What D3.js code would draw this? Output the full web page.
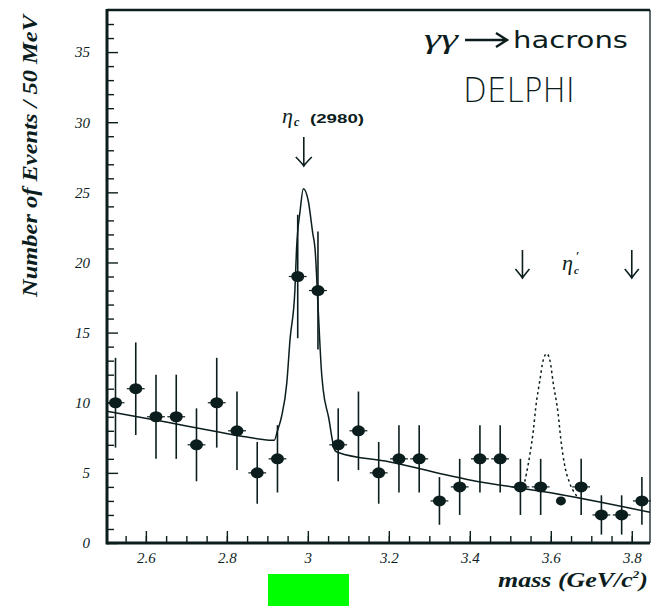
<!DOCTYPE html>
<html><head><meta charset="utf-8">
<script src="https://cdn.jsdelivr.net/npm/d3@7"></script>
<style>body{margin:0;background:#fff}svg{display:block}</style>
</head><body>
<svg id="chart" width="652" height="606"></svg>
<script>
// ---- data ----
const masses = [2.525,2.575,2.625,2.675,2.725,2.775,2.825,2.875,2.925,2.975,3.025,3.075,3.125,3.175,3.225,3.275,3.325,3.375,3.425,3.475,3.525,3.575,3.625,3.675,3.725,3.775,3.825];
const events = [10,11,9,9,7,10,8,5,6,19,18,7,8,5,6,6,3,4,6,6,4,4,3,4,2,2,3];
const errors = [3.2,3.3,3.0,3.0,2.6,3.2,2.8,2.2,2.4,4.4,4.2,2.6,2.8,2.2,2.4,2.4,1.7,2.0,2.4,2.4,2.0,2.0,0,2.0,1.4,1.4,1.7];
const binHalfWidth = 0.022;

const fitMass  = [2.504,2.65,2.783,2.85,2.905,2.917,2.925,2.935,2.948,2.956,2.968,2.972,2.981,2.989,3.001,3.012,3.018,3.025,3.034,3.038,3.051,3.067,3.075,3.2,3.4,3.6,3.845];
const fitValue = [9.40,8.62,7.89,7.55,7.33,7.32,8.0,9.0,11.4,14.5,18.0,20.9,23.7,25.26,24.4,22.1,20.9,17.0,12.1,10.9,9.0,6.6,6.45,5.79,4.49,3.58,2.19];

const etacPrimeMass  = [3.533,3.540,3.550,3.557,3.563,3.573,3.581,3.590,3.598,3.606,3.618,3.625,3.635,3.647,3.664];
const etacPrimeValue = [4.0,4.96,6.6,8.05,9.7,11.6,13.0,13.5,13.0,11.4,9.24,7.34,5.43,4.25,3.35];

const xTickValues = [2.6,2.8,3.0,3.2,3.4,3.6,3.8];
const xTickLabels = ["2.6","2.8","3","3.2","3.4","3.6","3.8"];
const xMinorTicks = [2.55,2.6,2.65,2.7,2.75,2.8,2.85,2.9,2.95,3.0,3.05,3.1,3.15,3.2,3.25,3.3,3.35,3.4,3.45,3.5,3.55,3.6,3.65,3.7,3.75,3.8];
const yTickValues = [0,5,10,15,20,25,30,35];
const yMinorTicks = [1,2,3,4,6,7,8,9,11,12,13,14,16,17,18,19,21,22,23,24,26,27,28,29,31,32,33,34,36,37];

const etacMass = 2.99;             // arrow for eta_c(2980)
const windowMasses = [3.53, 3.80]; // arrows around eta_c'

// ---- layout ----
const ink = "#0c1d1d";
const svg = d3.select("#chart");
const pLeft = 107, pRight = 650, pTop = 10, pBottom = 543;
const x = d3.scaleLinear().domain([2.504, 3.845]).range([pLeft, pRight]);
const y = d3.scaleLinear().domain([0, 38]).range([pBottom, pTop]);

const serif = "'Liberation Serif','DejaVu Serif',serif";
const xAxis = d3.axisBottom(x).tickValues(xTickValues)
  .tickFormat((d,i)=>xTickLabels[i]).tickSizeInner(-12).tickSizeOuter(0).tickPadding(9);
const gx = svg.append("g").attr("transform",`translate(0,${pBottom})`).call(xAxis);
const xMinor = d3.axisBottom(x).tickValues(xMinorTicks).tickFormat("").tickSizeInner(-7).tickSizeOuter(0);
const gxm = svg.append("g").attr("transform",`translate(0,${pBottom})`).call(xMinor);

const yAxis = d3.axisLeft(y).tickValues(yTickValues).tickSizeInner(-11).tickSizeOuter(0).tickPadding(17);
const gy = svg.append("g").attr("transform",`translate(${pLeft},0)`).call(yAxis);
const yMinor = d3.axisLeft(y).tickValues(yMinorTicks).tickFormat("").tickSizeInner(-7).tickSizeOuter(0);
const gym = svg.append("g").attr("transform",`translate(${pLeft},0)`).call(yMinor);

[gx,gxm,gy,gym].forEach(g=>{
  g.select(".domain").remove();
  g.selectAll(".tick line").attr("stroke",ink).attr("stroke-width",1.4);
  g.selectAll(".tick text").attr("fill",ink).style("font-family",serif)
   .style("font-style","italic").style("font-size","15px");
});

// frame
svg.append("line").attr("x1",pLeft).attr("x2",pRight).attr("y1",pTop).attr("y2",pTop).attr("stroke",ink).attr("stroke-width",2.5);
svg.append("line").attr("x1",pRight).attr("x2",pRight).attr("y1",pTop).attr("y2",pBottom).attr("stroke",ink).attr("stroke-width",1.3);
svg.append("line").attr("x1",pLeft).attr("x2",pLeft).attr("y1",pTop-1).attr("y2",pBottom+1.5).attr("stroke",ink).attr("stroke-width",3);
svg.append("line").attr("x1",pLeft).attr("x2",pRight).attr("y1",pBottom).attr("y2",pBottom).attr("stroke",ink).attr("stroke-width",3);

// fit curve
const fit = fitMass.map((m,i)=>[m,fitValue[i]]);
svg.append("path").datum(fit)
  .attr("d", d3.line().x(d=>x(d[0])).y(d=>y(d[1])).curve(d3.curveMonotoneX))
  .attr("fill","none").attr("stroke",ink).attr("stroke-width",1.5);

// expected eta_c' (dotted)
const ep = etacPrimeMass.map((m,i)=>[m,etacPrimeValue[i]]);
svg.append("path").datum(ep)
  .attr("d", d3.line().x(d=>x(d[0])).y(d=>y(d[1])).curve(d3.curveMonotoneX))
  .attr("fill","none").attr("stroke",ink).attr("stroke-width",1.5).attr("stroke-dasharray","2.5,3");

// data points
const pts = masses.map((m,i)=>({m, v:events[i], e:errors[i]}));
const gp = svg.append("g");
gp.selectAll("line.err").data(pts.filter(d=>d.e>0)).join("line").attr("class","err")
  .attr("x1",d=>x(d.m)).attr("x2",d=>x(d.m))
  .attr("y1",d=>y(d.v+d.e)).attr("y2",d=>y(d.v-d.e))
  .attr("stroke",ink).attr("stroke-width",1.6);
gp.selectAll("line.hb").data(pts.filter(d=>d.e>0)).join("line").attr("class","hb")
  .attr("x1",d=>x(d.m-binHalfWidth)).attr("x2",d=>x(d.m+binHalfWidth))
  .attr("y1",d=>y(d.v)).attr("y2",d=>y(d.v))
  .attr("stroke",ink).attr("stroke-width",1.2);
gp.selectAll("ellipse").data(pts).join("ellipse")
  .attr("cx",d=>x(d.m)).attr("cy",d=>y(d.v))
  .attr("rx",d=>d.e>0?6.5:5).attr("ry",d=>d.e>0?5.5:4.5).attr("fill",ink);

// arrows
function downArrow(cx, y0, y1, hw, hh){
  svg.append("path")
    .attr("d",`M${cx},${y0}L${cx},${y1}M${cx-hw},${y1-hh}Q${cx-2},${y1-3} ${cx},${y1}Q${cx+2},${y1-3} ${cx+hw},${y1-hh}`)
    .attr("fill","none").attr("stroke",ink).attr("stroke-width",1.6);
}
downArrow(x(etacMass), 137, 166, 8, 9);
downArrow(x(windowMasses[0]), 250, 278, 7, 9);
downArrow(x(windowMasses[1]), 250, 278, 7, 9);

// eta_c label
svg.append("text").attr("x",282).attr("y",123).attr("fill",ink)
  .style("font-family",serif).style("font-style","italic").style("font-size","22px").text("η");
svg.append("text").attr("x",294).attr("y",126).attr("fill",ink)
  .style("font-family",serif).style("font-style","italic").style("font-weight","bold").style("font-size","12px").text("c");
svg.append("text").attr("x",310).attr("y",123).attr("fill",ink)
  .style("font-family","'Liberation Sans',Arial,sans-serif").style("font-size","12px").style("font-weight","bold")
  .attr("textLength",54).attr("lengthAdjust","spacingAndGlyphs").text("(2980)");

// eta_c' label
svg.append("text").attr("x",562).attr("y",270).attr("fill",ink)
  .style("font-family",serif).style("font-style","italic").style("font-size","22px").text("η");
svg.append("text").attr("x",576).attr("y",260).attr("fill",ink)
  .style("font-family",serif).style("font-weight","bold").style("font-size","12px").text("′");
svg.append("text").attr("x",574).attr("y",274).attr("fill",ink)
  .style("font-family",serif).style("font-style","italic").style("font-weight","bold").style("font-size","11px").text("c");

// gamma gamma -> hadrons
svg.append("text").attr("x",424).attr("y",48).attr("fill",ink)
  .style("font-family",serif).style("font-style","italic").style("font-size","27px")
  .attr("textLength",34).attr("lengthAdjust","spacingAndGlyphs").text("γγ");
svg.append("path").attr("d","M465,40L505,40M496,33L507,40L496,47")
  .attr("fill","none").attr("stroke",ink).attr("stroke-width",2.4);
svg.append("text").attr("x",513).attr("y",48).attr("fill",ink)
  .style("font-family","'DejaVu Sans',sans-serif").style("font-size","23px")
  .attr("textLength",115).attr("lengthAdjust","spacingAndGlyphs").text("hacrons");
svg.append("text").attr("x",463).attr("y",102).attr("fill",ink)
  .style("font-family","'DejaVu Sans',sans-serif").style("font-size","34px").style("font-weight","300")
  .attr("textLength",112).attr("lengthAdjust","spacingAndGlyphs").text("DELPHI");

// axis titles
const xt = svg.append("text").attr("x",498).attr("y",587).attr("fill",ink)
  .style("font-family",serif).style("font-style","italic").style("font-weight","bold").style("font-size","22px")
  .attr("textLength",150).attr("lengthAdjust","spacingAndGlyphs");
xt.append("tspan").text("mass (GeV/c");
xt.append("tspan").text("2").attr("dy",-9).style("font-size","11px");
xt.append("tspan").text(")").attr("dy",9);

svg.append("text").attr("transform","translate(37,156) rotate(-90)").attr("text-anchor","middle").attr("fill",ink)
  .style("font-family",serif).style("font-style","italic").style("font-weight","bold").style("font-size","21px")
  .attr("textLength",282).attr("lengthAdjust","spacingAndGlyphs").text("Number of Events / 50 MeV");

// green box
svg.append("rect").attr("x",268).attr("y",574).attr("width",81).attr("height",32).attr("fill","#00ff00");
</script>
</body></html>
